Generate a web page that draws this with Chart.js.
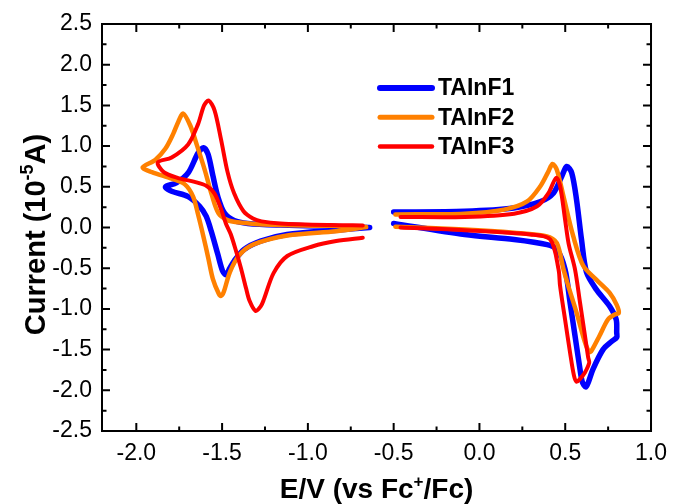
<!DOCTYPE html>
<html>
<head>
<meta charset="utf-8">
<script src="https://cdn.jsdelivr.net/npm/chart.js@4.4.1/dist/chart.umd.min.js"></script>
<style>
  body { margin: 0; background: #fff; }
  #wrap { width: 676px; height: 504px; }
</style>
</head>
<body>
<div id="wrap"><canvas id="cvChart" width="676" height="504"></canvas></div>
<script>
// tick labels
const xTicks = [-2.0, -1.5, -1.0, -0.5, 0.0, 0.5, 1.0];
const yTicks = [-2.5, -2.0, -1.5, -1.0, -0.5, 0.0, 0.5, 1.0, 1.5, 2.0, 2.5];

// TAInF1 - reduction scan (E in V, I in 1e-5 A)
const f1NegE = [-0.64, -0.87, -1.16, -1.35, -1.43, -1.487, -1.525, -1.554, -1.582, -1.608, -1.64, -1.698, -1.765, -1.83, -1.794, -1.698, -1.631, -1.593, -1.564, -1.525, -1.497, -1.477, -1.455, -1.429, -1.372, -1.276, -1.122, -0.835, -0.64];
const f1NegI = [0.0, 0.015, 0.03, 0.05, 0.085, 0.18, 0.38, 0.64, 0.90, 0.98, 0.915, 0.67, 0.55, 0.50, 0.445, 0.38, 0.26, 0.14, -0.04, -0.33, -0.535, -0.58, -0.50, -0.41, -0.27, -0.167, -0.086, -0.033, 0.0];
// TAInF1 - oxidation scan
const f1PosE = [-0.50, -0.086, 0.20, 0.356, 0.432, 0.48, 0.509, 0.538, 0.566, 0.595, 0.624, 0.681, 0.758, 0.797, 0.80, 0.80, 0.77, 0.72, 0.662, 0.635, 0.62, 0.60, 0.586, 0.557, 0.528, 0.499, 0.451, 0.394, 0.202, -0.086, -0.50];
const f1PosI = [0.19, 0.20, 0.24, 0.32, 0.425, 0.63, 0.75, 0.67, 0.34, -0.15, -0.55, -0.76, -0.965, -1.13, -1.29, -1.35, -1.40, -1.50, -1.74, -1.90, -1.96, -1.90, -1.74, -1.33, -0.92, -0.515, -0.27, -0.21, -0.147, -0.086, 0.05];

// TAInF2
const f2NegE = [-0.66, -0.87, -1.256, -1.41, -1.468, -1.52, -1.56, -1.60, -1.645, -1.685, -1.727, -1.755, -1.785, -1.83, -1.89, -1.963, -1.909, -1.794, -1.717, -1.669, -1.64, -1.61, -1.58, -1.554, -1.52, -1.506, -1.49, -1.455, -1.40, -1.32, -1.12, -0.835, -0.66];
const f2NegI = [0.005, 0.02, 0.037, 0.065, 0.09, 0.17, 0.40, 0.70, 1.0, 1.25, 1.40, 1.30, 1.15, 0.97, 0.83, 0.74, 0.68, 0.60, 0.53, 0.38, 0.16, -0.10, -0.38, -0.63, -0.81, -0.84, -0.79, -0.55, -0.34, -0.21, -0.098, -0.045, 0.005];
const f2PosE = [-0.49, -0.086, 0.144, 0.278, 0.356, 0.40, 0.426, 0.451, 0.49, 0.547, 0.605, 0.681, 0.758, 0.80, 0.812, 0.787, 0.749, 0.70, 0.653, 0.64, 0.615, 0.566, 0.518, 0.49, 0.451, 0.394, 0.202, -0.086, -0.49];
const f2PosI = [0.16, 0.17, 0.22, 0.32, 0.51, 0.68, 0.78, 0.71, 0.38, -0.11, -0.47, -0.64, -0.80, -0.95, -1.05, -1.07, -1.13, -1.33, -1.515, -1.53, -1.41, -1.045, -0.72, -0.515, -0.19, -0.11, -0.065, -0.025, 0.01];

// TAInF3
const f3NegE = [-0.68, -0.87, -1.16, -1.27, -1.32, -1.375, -1.43, -1.468, -1.506, -1.544, -1.578, -1.605, -1.64, -1.698, -1.794, -1.875, -1.84, -1.76, -1.66, -1.59, -1.545, -1.51, -1.478, -1.45, -1.42, -1.39, -1.36, -1.34, -1.305, -1.275, -1.256, -1.20, -1.12, -0.97, -0.835, -0.68];
const f3NegI = [0.025, 0.03, 0.05, 0.075, 0.11, 0.20, 0.42, 0.68, 1.08, 1.44, 1.56, 1.50, 1.27, 1.02, 0.86, 0.80, 0.68, 0.61, 0.56, 0.51, 0.42, 0.25, 0.05, -0.08, -0.28, -0.50, -0.75, -0.90, -1.025, -0.97, -0.88, -0.56, -0.35, -0.23, -0.167, -0.127];
const f3PosE = [-0.46, -0.086, 0.202, 0.336, 0.403, 0.447, 0.47, 0.499, 0.52, 0.557, 0.586, 0.615, 0.634, 0.64, 0.615, 0.586, 0.566, 0.551, 0.528, 0.499, 0.47, 0.461, 0.413, 0.298, -0.086, -0.46];
const f3PosI = [0.13, 0.13, 0.17, 0.26, 0.425, 0.61, 0.51, 0.10, -0.20, -0.515, -0.92, -1.33, -1.60, -1.66, -1.78, -1.86, -1.895, -1.82, -1.535, -1.13, -0.72, -0.515, -0.147, -0.086, -0.033, 0.0];

const pts = (e, i) => e.map((v, k) => ({ x: v, y: i[k] }));

function trace(label, color, width, order, e, i, inLegend) {
  return {
    label: label,
    data: pts(e, i),
    showLine: true,
    borderColor: color,
    backgroundColor: color,
    borderWidth: width,
    borderCapStyle: "round",
    borderJoinStyle: "round",
    pointRadius: 0,
    tension: 0.3,
    fill: false,
    order: order,
    inLegend: inLegend,
  };
}

const datasets = [
  trace("TAInF1", "#0000ff", 5.5, 2, f1NegE, f1NegI, true),
  trace("TAInF1", "#0000ff", 5.5, 2, f1PosE, f1PosI, false),
  trace("TAInF2", "#ff8000", 4.5, 1, f2NegE, f2NegI, true),
  trace("TAInF2", "#ff8000", 4.5, 1, f2PosE, f2PosI, false),
  trace("TAInF3", "#ff0000", 4, 0, f3NegE, f3NegI, true),
  trace("TAInF3", "#ff0000", 4, 0, f3PosE, f3PosI, false),
];

// box, inward ticks, axis titles and legend
const framePlugin = {
  id: "frame",
  afterDraw(chart) {
    const { ctx, chartArea: a, scales } = chart;
    const sx = scales.x, sy = scales.y;
    ctx.save();
    ctx.strokeStyle = "#000";
    ctx.lineWidth = 2;
    ctx.strokeRect(a.left, a.top, a.right - a.left, a.bottom - a.top);

    ctx.beginPath();
    xTicks.forEach((v) => {
      [[v, 8], [v + 0.25, 4.5]].forEach(([t, len]) => {
        if (t > sx.max + 1e-6) return;
        const px = sx.getPixelForValue(t);
        ctx.moveTo(px, a.bottom); ctx.lineTo(px, a.bottom - len);
        ctx.moveTo(px, a.top); ctx.lineTo(px, a.top + len);
      });
    });
    yTicks.forEach((v) => {
      [[v, 8], [v + 0.25, 4.5]].forEach(([t, len]) => {
        if (t > sy.max + 1e-6) return;
        const py = sy.getPixelForValue(t);
        ctx.moveTo(a.left, py); ctx.lineTo(a.left + len, py);
        ctx.moveTo(a.right, py); ctx.lineTo(a.right - len, py);
      });
    });
    ctx.stroke();

    // axis titles with superscripts
    function partsWidth(parts, big, small) {
      let w = 0;
      parts.forEach((p) => { ctx.font = p[1] ? small : big; w += ctx.measureText(p[0]).width; });
      return w;
    }
    function drawParts(parts, x0, y0, big, small, rise) {
      let x = x0;
      parts.forEach((p) => {
        ctx.font = p[1] ? small : big;
        ctx.fillText(p[0], x, p[1] ? y0 - rise : y0);
        x += ctx.measureText(p[0]).width;
      });
    }
    ctx.fillStyle = "#000";
    ctx.textBaseline = "alphabetic";
    ctx.textAlign = "left";
    const xBig = "bold 28px 'Liberation Sans', Arial, sans-serif";
    const xSmall = "bold 17px 'Liberation Sans', Arial, sans-serif";
    const xt = [["E/V (vs Fc", false], ["+", true], ["/Fc)", false]];
    const xw = partsWidth(xt, xBig, xSmall);
    drawParts(xt, (a.left + a.right) / 2 - xw / 2, 498, xBig, xSmall, 11);

    const yBig = "bold 29px 'Liberation Sans', Arial, sans-serif";
    const ySmall = "bold 18px 'Liberation Sans', Arial, sans-serif";
    const yt = [["Current (10", false], ["-5", true], ["A)", false]];
    const yw = partsWidth(yt, yBig, ySmall);
    ctx.save();
    ctx.translate(45, (a.top + a.bottom) / 2 + 7);
    ctx.rotate(-Math.PI / 2);
    drawParts(yt, -yw / 2, 0, yBig, ySmall, 12);
    ctx.restore();

    // legend
    let row = 0;
    chart.data.datasets.forEach((ds) => {
      if (!ds.inLegend) return;
      const ly = 88 + row * 29.3;
      ctx.strokeStyle = ds.borderColor;
      ctx.lineWidth = ds.borderWidth + 0.5;
      ctx.lineCap = "round";
      ctx.beginPath();
      ctx.moveTo(380, ly);
      ctx.lineTo(432, ly);
      ctx.stroke();
      ctx.fillStyle = "#000";
      ctx.font = "bold 23px 'Liberation Sans', Arial, sans-serif";
      ctx.textBaseline = "middle";
      ctx.fillText(ds.label, 438, ly + 1);
      row++;
    });
    ctx.restore();
  },
};

const tickFont = { family: "'Liberation Sans', Arial, sans-serif", size: 23 };

const config = {
  type: "scatter",
  data: { datasets: datasets },
  options: {
    responsive: false,
    animation: false,
    layout: { padding: { top: 24, right: 18, left: 0, bottom: 0 } },
    plugins: { legend: { display: false }, tooltip: { enabled: false } },
    scales: {
      x: {
        type: "linear",
        min: -2.2,
        max: 1.0,
        grid: { display: false, drawTicks: false },
        border: { display: false },
        afterBuildTicks: (s) => { s.ticks = xTicks.map((v) => ({ value: v })); },
        afterFit: (s) => { s.height = 73; },
        ticks: { font: tickFont, color: "#000", padding: 9, maxRotation: 0, callback: (v) => v.toFixed(1) },
      },
      y: {
        type: "linear",
        min: -2.5,
        max: 2.5,
        grid: { display: false, drawTicks: false },
        border: { display: false },
        afterBuildTicks: (s) => { s.ticks = yTicks.map((v) => ({ value: v })); },
        afterFit: (s) => { s.width = 102; },
        ticks: { font: tickFont, color: "#000", padding: 10, callback: (v) => v.toFixed(1) },
      },
    },
  },
  plugins: [framePlugin],
};

let chartCV = new Chart(document.getElementById("cvChart"), config);
</script>
</body>
</html>
